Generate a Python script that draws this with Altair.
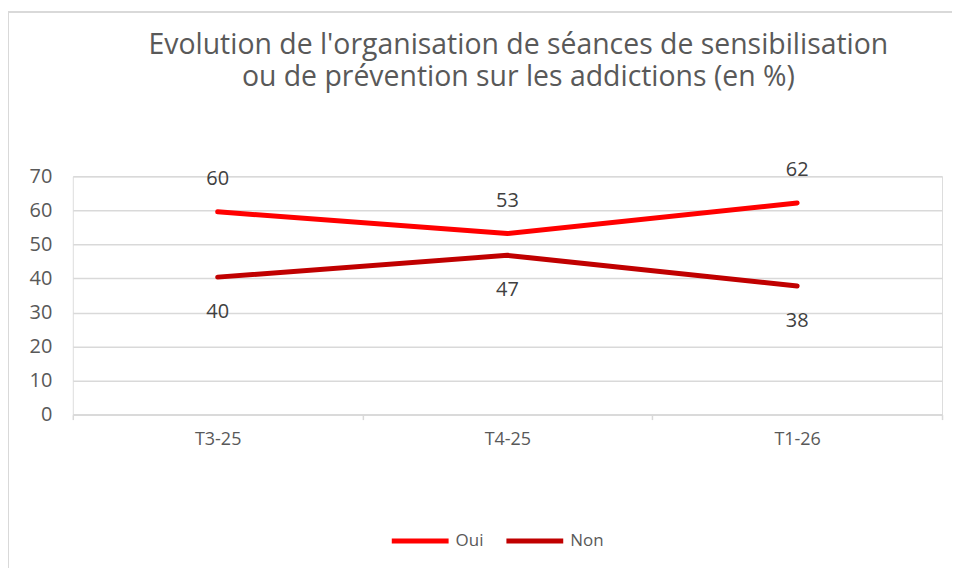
import altair as alt
import pandas as pd

periods = ["T3-25", "T4-25", "T1-26"]
oui = [59.6, 53.2, 62.2]
non = [40.4, 46.8, 37.8]
oui_labels = ["60", "53", "62"]
non_labels = ["40", "47", "38"]
series = ["Oui", "Non"]
colors = ["#FF0000", "#C00000"]
title_lines = ["Evolution de l'organisation de séances de sensibilisation",
               "ou de prévention sur les addictions (en %)"]

rows = []
for p, v, l in zip(periods, oui, oui_labels):
    rows.append({"period": p, "value": v, "label": l, "serie": "Oui"})
for p, v, l in zip(periods, non, non_labels):
    rows.append({"period": p, "value": v, "label": l, "serie": "Non"})
df = pd.DataFrame(rows)

FONT = "Open Sans"

x = alt.X("period:N", sort=periods, title=None,
          scale=alt.Scale(type="band", paddingInner=0, paddingOuter=0),
          axis=alt.Axis(labelAngle=0, tickBand="extent", labelColor="#595959",
                        labelFontSize=18, labelFont=FONT, labelPadding=11,
                        domainColor="#D9D9D9", domainWidth=1.5,
                        tickColor="#D9D9D9", tickSize=5, tickWidth=1.5,
                        grid=False))
y = alt.Y("value:Q", title=None,
          scale=alt.Scale(domain=[0, 70], nice=False),
          axis=alt.Axis(values=list(range(0, 71, 10)), labelColor="#595959",
                        labelFontSize=20, labelFont=FONT, labelPadding=21,
                        labelOverlap=False, labelBaseline="middle",
                        domain=False, ticks=False, gridColor="#D9D9D9", gridWidth=1.5))

color = alt.Color("serie:N", sort=series,
                  scale=alt.Scale(domain=series, range=colors),
                  legend=alt.Legend(title=None, orient="none", legendX=317, legendY=334,
                                    direction="horizontal", symbolType="stroke",
                                    symbolSize=3250, symbolStrokeWidth=5,
                                    labelFontSize=17, labelFont=FONT, labelColor="#595959",
                                    labelOffset=4, columnPadding=12))

base = alt.Chart(df)

lines = base.mark_line(strokeWidth=5, strokeCap="round", strokeJoin="round").encode(
    x=x, y=y, color=color)

lab_oui = base.transform_filter(alt.datum.serie == "Oui").mark_text(
    dy=-33, fontSize=20, font=FONT, color="#404040", baseline="middle").encode(
    x=x, y=y, text="label:N")
lab_non = base.transform_filter(alt.datum.serie == "Non").mark_text(
    dy=35, fontSize=20, font=FONT, color="#404040", baseline="middle").encode(
    x=x, y=y, text="label:N")

title_df = pd.DataFrame({"line": title_lines, "i": [0, 1]})
title1 = alt.Chart(title_df).transform_filter(alt.datum.i == 0).mark_text(
    font=FONT, fontSize=28.5, color="#595959", baseline="alphabetic", align="center").encode(
    text="line:N", x=alt.value(447), y=alt.value(-123))
title2 = alt.Chart(title_df).transform_filter(alt.datum.i == 1).mark_text(
    font=FONT, fontSize=28.5, color="#595959", baseline="alphabetic", align="center").encode(
    text="line:N", x=alt.value(447), y=alt.value(-91))

border = alt.Chart(pd.DataFrame({"a": [0]})).mark_rect(
    fill=None, stroke="#D9D9D9", strokeWidth=2, clip=False).encode(
    x=alt.value(-65), x2=alt.value(900), y=alt.value(-165), y2=alt.value(440))

chart = alt.layer(border, lines, lab_oui, lab_non, title1, title2).properties(
    width=872, height=239,
    autosize=alt.AutoSizeParams(type="none"),
    padding={"left": 65, "top": 168, "right": 10, "bottom": 165},
).configure_view(strokeWidth=0, stroke="transparent").configure(background="white")

chart.save("out.html", embed_options={"renderer": "svg", "actions": False})
